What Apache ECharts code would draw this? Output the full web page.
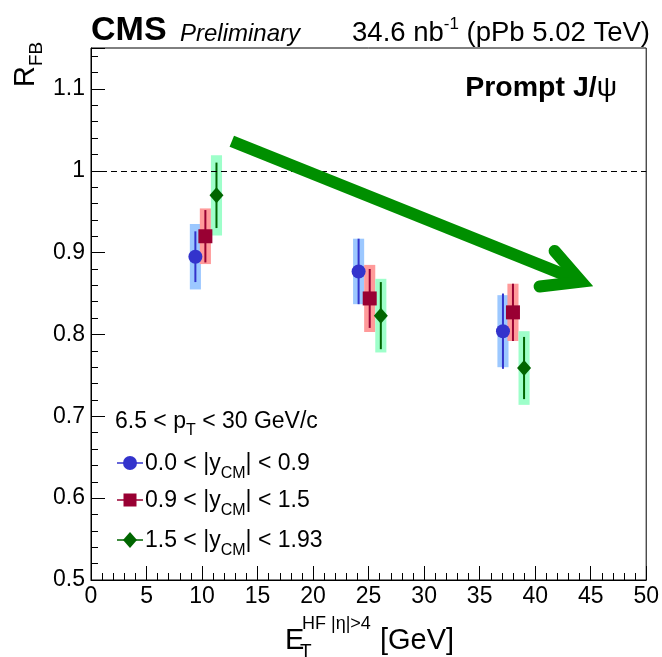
<!DOCTYPE html>
<html><head><meta charset="utf-8">
<script src="https://cdn.jsdelivr.net/npm/echarts@6/dist/echarts.min.js"></script>
<style>html,body{margin:0;padding:0;background:#fff}#c{width:662px;height:657px}</style>
</head><body><div id="c"></div>
<script>
const FONT = '"Liberation Sans", Arial, Helvetica, sans-serif';

// ---- data ----
const xBlue = [9.4, 24.1, 37.1];
const yBlue = [0.895, 0.877, 0.804];
const statBlue = [0.031, 0.040, 0.046];
const systBlue = [0.040, 0.040, 0.044];

const xRed = [10.3, 25.1, 38.0];
const yRed = [0.920, 0.844, 0.827];
const statRed = [0.032, 0.036, 0.035];
const systRed = [0.034, 0.041, 0.035];

const xGreen = [11.3, 26.1, 39.0];
const yGreen = [0.970, 0.823, 0.759];
const statGreen = [0.040, 0.041, 0.038];
const systGreen = [0.049, 0.045, 0.045];

const systWidth = 1.0;
const refLine = 1.0;
const arrowShaft = [[12.68, 1.036], [43.9, 0.866]];
const arrowHead = [[41.75, 0.902], [44.15, 0.8646], [40.4, 0.8585]];

const legendLabels = [
  ['0.0 < |y', 'CM', '| < 0.9'],
  ['0.9 < |y', 'CM', '| < 1.5'],
  ['1.5 < |y', 'CM', '| < 1.93']
];

const C_BLUE = '#3333cc', C_RED = '#990033', C_GREEN = '#006600';
const B_BLUE = '#9cc8ff', B_RED = '#ff9a9a', B_GREEN = '#9effca';
const ARROW = '#008f00';

// ---- text helpers ----
const mctx = document.createElement('canvas').getContext('2d');
function fontStr(p) { return (p.style || 'normal') + ' ' + (p.weight || 'normal') + ' ' + p.size + 'px ' + FONT; }
function measure(p) { mctx.font = fontStr(p); return mctx.measureText(p.t).width; }
function txt(x, baseY, p) {
  return { type: 'text', x: x, y: baseY - 0.32 * p.size, z: 100,
    style: { text: p.t, fontSize: p.size, fontWeight: p.weight || 'normal', fontStyle: p.style || 'normal',
      fontFamily: FONT, fill: '#000', align: 'left', verticalAlign: 'middle' } };
}
function flow(x, y, parts, align, rotation) {
  const widths = parts.map(measure);
  let total = 0; parts.forEach((p, i) => { total += widths[i] + (p.gap || 0); });
  let cx = align === 'right' ? -total : (align === 'center' ? -total / 2 : 0);
  const children = parts.map((p, i) => { const el = txt(cx + (p.gap || 0), p.dy || 0, p); cx += widths[i] + (p.gap || 0); return el; });
  return { type: 'group', x: x, y: y, rotation: rotation || 0, z: 100, children: children };
}

function boxSeries(xs, ys, es, color) {
  return { type: 'custom', z: 1, silent: true,
    renderItem: function (params, api) {
      const x = api.value(0), y = api.value(1), e = api.value(2);
      const p1 = api.coord([x - systWidth / 2, y + e]);
      const p2 = api.coord([x + systWidth / 2, y - e]);
      return { type: 'rect', shape: { x: p1[0], y: p1[1], width: p2[0] - p1[0], height: p2[1] - p1[1] }, style: { fill: color } };
    },
    data: xs.map((x, i) => [x, ys[i], es[i]]) };
}
function barSeries(xs, ys, es, color) {
  return { type: 'custom', z: 2, silent: true,
    renderItem: function (params, api) {
      const x = api.value(0), y = api.value(1), e = api.value(2);
      const p1 = api.coord([x, y + e]);
      const p2 = api.coord([x, y - e]);
      return { type: 'line', shape: { x1: p1[0], y1: p1[1], x2: p2[0], y2: p2[1] }, style: { stroke: color, lineWidth: 2 } };
    },
    data: xs.map((x, i) => [x, ys[i], es[i]]) };
}
function markerSeries(xs, ys, symbol, size, color) {
  return { type: 'scatter', z: 3, silent: true, symbol: symbol, symbolSize: size,
    itemStyle: { color: color, opacity: 1 }, data: xs.map((x, i) => [x, ys[i]]) };
}

const chart = echarts.init(document.getElementById('c'), null, { renderer: 'canvas' });

const graphics = [];
// header
graphics.push(flow(91, 42, [{ t: 'CMS', size: 34, weight: 'bold' }], 'left'));
graphics.push(flow(180, 42, [{ t: 'Preliminary', size: 24, style: 'italic' }], 'left'));
graphics.push(flow(650, 42, [{ t: '34.6 nb', size: 27.5 }, { t: '-1', size: 17, dy: -12 }, { t: ' (pPb 5.02 TeV)', size: 27.5 }], 'right'));
graphics.push(flow(617, 97, [{ t: 'Prompt J/', size: 28.5, weight: 'bold' }, { t: 'ψ', size: 28.5 }], 'right'));
// legend
graphics.push(flow(115, 429, [{ t: '6.5 < p', size: 23 }, { t: 'T', size: 16, dy: 7 }, { t: ' < 30 GeV/c', size: 23 }], 'left'));
const legY = [471, 508, 548];
const legC = [C_BLUE, C_RED, C_GREEN];
legendLabels.forEach((l, i) => {
  graphics.push(flow(145, legY[i], [{ t: l[0], size: 23 }, { t: l[1], size: 16, dy: 8 }, { t: l[2], size: 23 }], 'left'));
  const cy = legY[i] - 8;
  graphics.push({ type: 'line', z: 100, shape: { x1: 117, y1: cy, x2: 143, y2: cy }, style: { stroke: legC[i], lineWidth: 1.5 } });
});
graphics.push({ type: 'circle', z: 101, shape: { cx: 130, cy: legY[0] - 8, r: 7 }, style: { fill: C_BLUE } });
graphics.push({ type: 'rect', z: 101, shape: { x: 123.5, y: legY[1] - 8 - 6.5, width: 13, height: 13 }, style: { fill: C_RED } });
graphics.push({ type: 'polygon', z: 101, shape: { points: [[130, legY[2] - 16], [137, legY[2] - 8], [130, legY[2]], [123, legY[2] - 8]] }, style: { fill: C_GREEN } });
// x title
graphics.push(txt(285, 650, { t: 'E', size: 29 }));
graphics.push(txt(300, 658, { t: 'T', size: 19 }));
graphics.push(txt(302, 630, { t: 'HF |η|>4', size: 18 }));
graphics.push(txt(380, 650, { t: '[GeV]', size: 29 }));
// y title
graphics.push(flow(35, 87, [{ t: 'R', size: 29 }, { t: 'FB', size: 19, dy: 8 }], 'left', Math.PI / 2));

chart.setOption({
  animation: false,
  backgroundColor: '#fff',
  grid: { left: 91, right: 11, top: 48, bottom: 77, show: true, borderColor: '#000', borderWidth: 1, backgroundColor: 'transparent' },
  xAxis: {
    type: 'value', min: 0, max: 50, interval: 5,
    axisLine: { show: true, onZero: false, lineStyle: { color: '#000', width: 1 } },
    axisTick: { show: true, inside: true, length: 14, lineStyle: { color: '#000', width: 1 } },
    minorTick: { show: true, splitNumber: 5, length: 7, lineStyle: { color: '#000', width: 1 } },
    axisLabel: { color: '#000', fontSize: 23, fontFamily: FONT, margin: 5 },
    splitLine: { show: false }, minorSplitLine: { show: false }
  },
  yAxis: {
    type: 'value', min: 0.5, max: 1.15, interval: 0.1,
    axisLine: { show: true, onZero: false, lineStyle: { color: '#000', width: 1 } },
    axisTick: { show: true, inside: true, length: 14, lineStyle: { color: '#000', width: 1 } },
    minorTick: { show: true, splitNumber: 5, length: 7, lineStyle: { color: '#000', width: 1 } },
    axisLabel: { color: '#000', fontSize: 23, fontFamily: FONT, margin: 6, showMaxLabel: false,
      formatter: function (v) { const r = Math.round(v * 10) / 10; if (Math.abs(r - v) > 1e-6) return ''; return String(parseFloat(v.toFixed(1))); } },
    splitLine: { show: false }, minorSplitLine: { show: false }
  },
  series: [
    boxSeries(xBlue, yBlue, systBlue, B_BLUE),
    boxSeries(xRed, yRed, systRed, B_RED),
    boxSeries(xGreen, yGreen, systGreen, B_GREEN),
    barSeries(xBlue, yBlue, statBlue, C_BLUE),
    barSeries(xRed, yRed, statRed, C_RED),
    barSeries(xGreen, yGreen, statGreen, C_GREEN),
    markerSeries(xBlue, yBlue, 'circle', 14, C_BLUE),
    markerSeries(xRed, yRed, 'rect', 14, C_RED),
    markerSeries(xGreen, yGreen, 'diamond', [14, 16], C_GREEN),
    { type: 'line', z: 5, silent: true, showSymbol: false, symbol: 'none', data: arrowShaft,
      lineStyle: { color: ARROW, width: 12, cap: 'butt' },
      markLine: { silent: true, symbol: 'none', label: { show: false },
        lineStyle: { color: '#000', type: [6, 4], width: 1 }, data: [{ yAxis: refLine }] } },
    { type: 'line', z: 5, silent: true, showSymbol: false, symbol: 'none', data: arrowHead,
      lineStyle: { color: ARROW, width: 12, cap: 'round', join: 'miter' } }
  ],
  graphic: graphics
});
</script>
</body></html>
